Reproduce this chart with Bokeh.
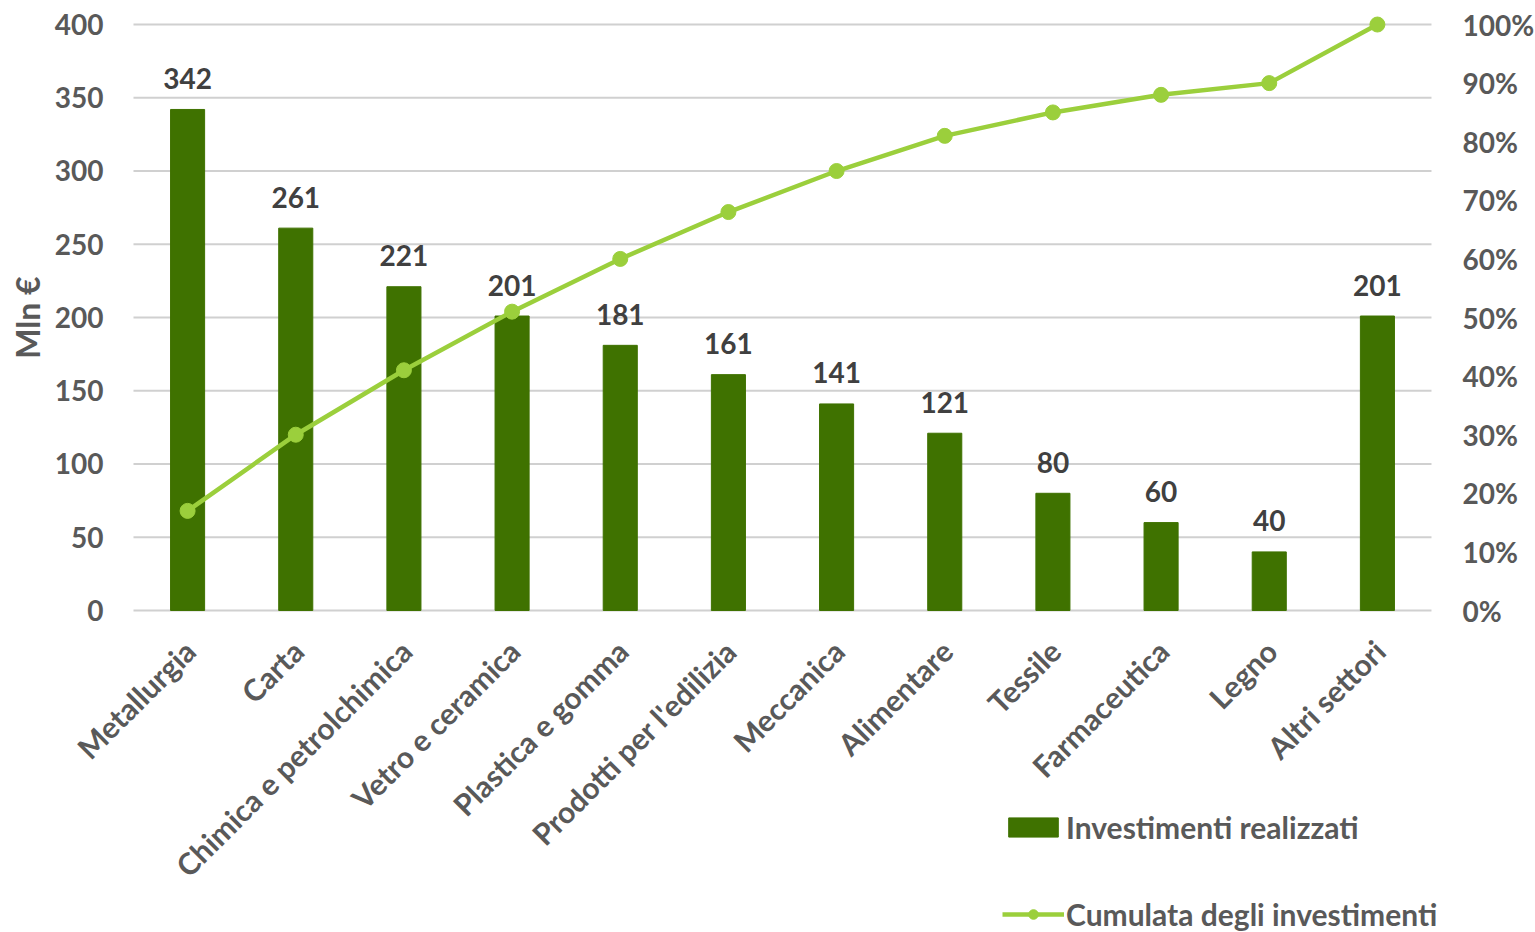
from math import pi
from bokeh.plotting import figure
from bokeh.models import ColumnDataSource, Range1d, Legend, LegendItem
from bokeh.core.properties import value
from bokeh.embed import file_html
from bokeh.resources import INLINE

categories = ["Metallurgia", "Carta", "Chimica e petrolchimica", "Vetro e ceramica",
              "Plastica e gomma", "Prodotti per l'edilizia", "Meccanica", "Alimentare",
              "Tessile", "Farmaceutica", "Legno", "Altri settori"]
investimenti = [342, 261, 221, 201, 181, 161, 141, 121, 80, 60, 40, 201]
cumulata_pct = [17, 30, 41, 51, 60, 68, 75, 81, 85, 88, 90, 100]
left_ticks = [0, 50, 100, 150, 200, 250, 300, 350, 400]
right_ticks = [0, 10, 20, 30, 40, 50, 60, 70, 80, 90, 100]
y_title = "Mln €"
legend_labels = ["Investimenti realizzati", "Cumulata degli investimenti"]

FONT = value("Lato")
GRAY = "#595959"
BAR = "#3f7200"
LINE = "#9bcf3c"
GRID = "#d0d0d0"

n = len(categories)
pos = list(range(n))            # category slots on the x scale
x_lo, x_hi = -0.5, n - 0.5      # extent of the category band

src = ColumnDataSource(dict(x=pos, cat=categories, inv=investimenti, cum=cumulata_pct,
                            lab=[str(v) for v in investimenti], zero=[0] * n))
lsrc = ColumnDataSource(dict(y=left_ticks, t=[str(v) for v in left_ticks],
                             x0=[x_lo] * len(left_ticks), x1=[x_hi] * len(left_ticks)))
rsrc = ColumnDataSource(dict(y=right_ticks, t=[f"{v}%" for v in right_ticks],
                             x=[x_hi] * len(right_ticks)))

# the plotting frame covers the whole canvas; category band runs from 133px
# to 1431px, value 0 sits at 610px and 400 at 24px
p = figure(width=1535, height=932, x_range=Range1d(-1.7296, 12.4615),
           y_range=Range1d(-219.8, 416.38), x_axis_type=None, y_axis_type=None,
           output_backend="svg", toolbar_location=None, min_border=0)
p.outline_line_color = None
p.extra_y_ranges = {"pct": Range1d(-54.95, 104.1)}

# horizontal gridlines (value axis)
p.segment(x0="x0", x1="x1", y0="y", y1="y", source=lsrc, line_color=GRID, line_width=2)

# left value-axis labels
p.text(x="x0", y="y", text="t", source=lsrc, text_align="right", text_baseline="middle",
       x_offset=-30, text_font=FONT, text_font_style="bold", text_font_size="28px",
       text_color=GRAY)
# right percent-axis labels
p.text(x="x", y="y", text="t", source=rsrc, y_range_name="pct", text_align="left",
       text_baseline="middle", x_offset=31, text_font=FONT, text_font_style="bold",
       text_font_size="28px", text_color=GRAY)
# value-axis title
p.text(x=[x_lo], y=[200], text=[y_title], angle=pi / 2, text_align="center",
       text_baseline="middle", x_offset=-106, text_font=FONT, text_font_style="bold",
       text_font_size="32px", text_color=GRAY)

bars = p.vbar(x="x", top="inv", width=0.315, source=src, color=BAR)

p.text(x="x", y="inv", text="lab", source=src, text_align="center",
       text_baseline="alphabetic", y_offset=-31, text_font=FONT,
       text_font_style="bold", text_font_size="28px", text_color="#404040")

# category labels
p.text(x="x", y="zero", text="cat", source=src, angle=pi / 4,
       text_align="right", text_baseline="middle", x_offset=2, y_offset=35,
       text_font=FONT, text_font_style="bold", text_font_size="30px",
       text_color=GRAY)

line = p.line(x="x", y="cum", source=src, y_range_name="pct", line_width=4.5, color=LINE)
pts = p.scatter(x="x", y="cum", source=src, y_range_name="pct", size=15, color=LINE)

legend = Legend(items=[LegendItem(label=legend_labels[0], renderers=[bars]),
                       LegendItem(label=legend_labels[1], renderers=[line, pts])],
                location=(1002, 0), orientation="vertical",
                glyph_width=62, glyph_height=24, label_standoff=2, spacing=51,
                padding=0, margin=0, border_line_color=None, background_fill_alpha=0,
                label_text_font="Lato", label_text_font_style="bold",
                label_text_font_size="30px", label_text_color=GRAY, label_height=34)
p.add_layout(legend, "center")

open("out.html", "w").write(file_html(p, INLINE))
